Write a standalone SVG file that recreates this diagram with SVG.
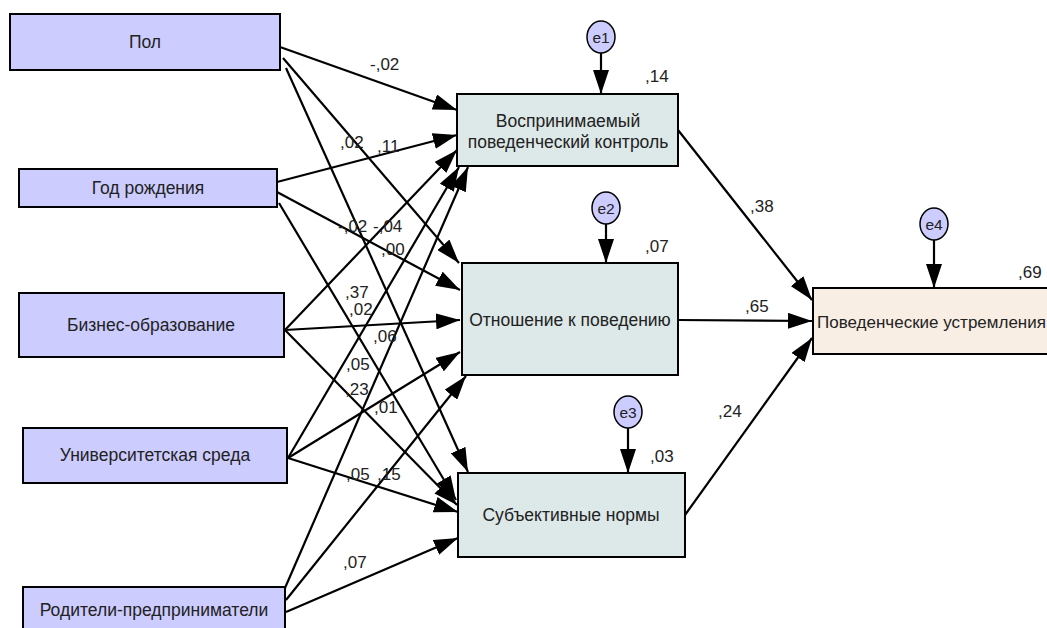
<svg xmlns="http://www.w3.org/2000/svg" width="1047" height="628" viewBox="0 0 1047 628">
<style>
.bg{fill:#ffffff}
.obs{fill:#ccccff;stroke:#000;stroke-width:2}
.mid{fill:#dde8e8;stroke:#000;stroke-width:2}
.out{fill:#f8eee4;stroke:#000;stroke-width:2}
.err{fill:#ccccff;stroke:#000;stroke-width:1.5}
.t{font-family:"Liberation Sans",Arial,sans-serif;font-size:17.5px;fill:#222;text-anchor:middle}
.et{font-family:"Liberation Sans",Arial,sans-serif;font-size:15.5px;fill:#222;text-anchor:middle}
.lb{font-family:"Liberation Sans",Arial,sans-serif;font-size:17px;fill:#222}
.c line{stroke:#000;stroke-width:2.2;marker-end:url(#ah)}
</style>
<defs>
<marker id="ah" markerUnits="userSpaceOnUse" markerWidth="25" markerHeight="16" refX="24" refY="8" orient="auto">
<path d="M0,0 L24,8 L0,16 z" fill="#000"/>
</marker>
</defs>
<rect class="bg" x="0" y="0" width="1047" height="628"/>

<g id="connectors" class="c">
<line x1="280" y1="47" x2="457" y2="110"/>
<line x1="283" y1="58" x2="459" y2="263"/>
<line x1="286" y1="68" x2="468" y2="472"/>
<line x1="277" y1="182" x2="457" y2="135"/>
<line x1="277" y1="192" x2="460" y2="290"/>
<line x1="279" y1="203" x2="456" y2="500"/>
<line x1="285" y1="330" x2="457" y2="150"/>
<line x1="285" y1="330" x2="460" y2="320"/>
<line x1="285" y1="330" x2="457" y2="505"/>
<line x1="288" y1="458" x2="459" y2="167"/>
<line x1="288" y1="458" x2="460" y2="352"/>
<line x1="288" y1="458" x2="458" y2="512"/>
<line x1="285" y1="588" x2="468" y2="167"/>
<line x1="286" y1="600" x2="466" y2="376"/>
<line x1="286" y1="612" x2="458" y2="538"/>
<line x1="678" y1="130" x2="812" y2="300"/>
<line x1="678" y1="320" x2="812" y2="321"/>
<line x1="685" y1="515" x2="812" y2="338"/>
<line x1="601" y1="53" x2="601" y2="94"/>
<line x1="606" y1="224" x2="606" y2="263"/>
<line x1="628" y1="428" x2="628" y2="473"/>
<line x1="934" y1="240" x2="934" y2="288"/>
</g>

<g id="labels">
<text class="lb" x="370" y="70">-,02</text>
<text class="lb" x="340" y="148">,02</text>
<text class="lb" x="377" y="152">,11</text>
<text class="lb" x="338" y="232">-,02</text>
<text class="lb" x="373" y="232">-,04</text>
<text class="lb" x="381" y="255">,00</text>
<text class="lb" x="345" y="298">,37</text>
<text class="lb" x="349" y="315">,02</text>
<text class="lb" x="373" y="342">,06</text>
<text class="lb" x="346" y="370">,05</text>
<text class="lb" x="345" y="395">,23</text>
<text class="lb" x="374" y="413">,01</text>
<text class="lb" x="346" y="480">,05</text>
<text class="lb" x="377" y="480">,15</text>
<text class="lb" x="343" y="568">,07</text>
<text class="lb" x="750" y="212">,38</text>
<text class="lb" x="745" y="312">,65</text>
<text class="lb" x="718" y="417">,24</text>
<text class="lb" x="645" y="82">,14</text>
<text class="lb" x="645" y="252">,07</text>
<text class="lb" x="650" y="462">,03</text>
<text class="lb" x="1018" y="278">,69</text>
</g>

<g id="n-pol"><rect class="obs" x="10" y="14" width="270" height="56"/><text class="t" x="145" y="48">Пол</text></g>
<g id="n-god"><rect class="obs" x="19" y="169" width="258" height="38"/><text class="t" x="148" y="194">Год рождения</text></g>
<g id="n-biz"><rect class="obs" x="19" y="293" width="265" height="64"/><text class="t" x="151" y="331">Бизнес-образование</text></g>
<g id="n-univ"><rect class="obs" x="23" y="428" width="264" height="55"/><text class="t" x="155" y="461">Университетская среда</text></g>
<g id="n-rod"><rect class="obs" x="23" y="587" width="262" height="48"/><text class="t" x="154" y="616">Родители-предприниматели</text></g>

<g id="n-vpk"><rect class="mid" x="457" y="94" width="221" height="72"/><text class="t" x="568" y="127">Воспринимаемый</text><text class="t" x="568" y="148">поведенческий контроль</text></g>
<g id="n-otn"><rect class="mid" x="462" y="263" width="216" height="112"/><text class="t" x="570" y="326">Отношение к поведению</text></g>
<g id="n-sub"><rect class="mid" x="458" y="473" width="227" height="84"/><text class="t" x="571" y="521">Субъективные нормы</text></g>
<g id="n-out"><rect class="out" x="813" y="288" width="260" height="66"/><text class="t" x="817" y="328" style="text-anchor:start;font-size:17px">Поведенческие устремления</text></g>

<g id="e1"><ellipse class="err" cx="601" cy="37" rx="14" ry="16"/><text class="et" x="601" y="42.5">e1</text></g>
<g id="e2"><ellipse class="err" cx="606" cy="208" rx="14" ry="16"/><text class="et" x="606" y="213.5">e2</text></g>
<g id="e3"><ellipse class="err" cx="628" cy="412" rx="14" ry="16"/><text class="et" x="628" y="417.5">e3</text></g>
<g id="e4"><ellipse class="err" cx="934" cy="224" rx="14" ry="16"/><text class="et" x="934" y="229.5">e4</text></g>
</svg>
